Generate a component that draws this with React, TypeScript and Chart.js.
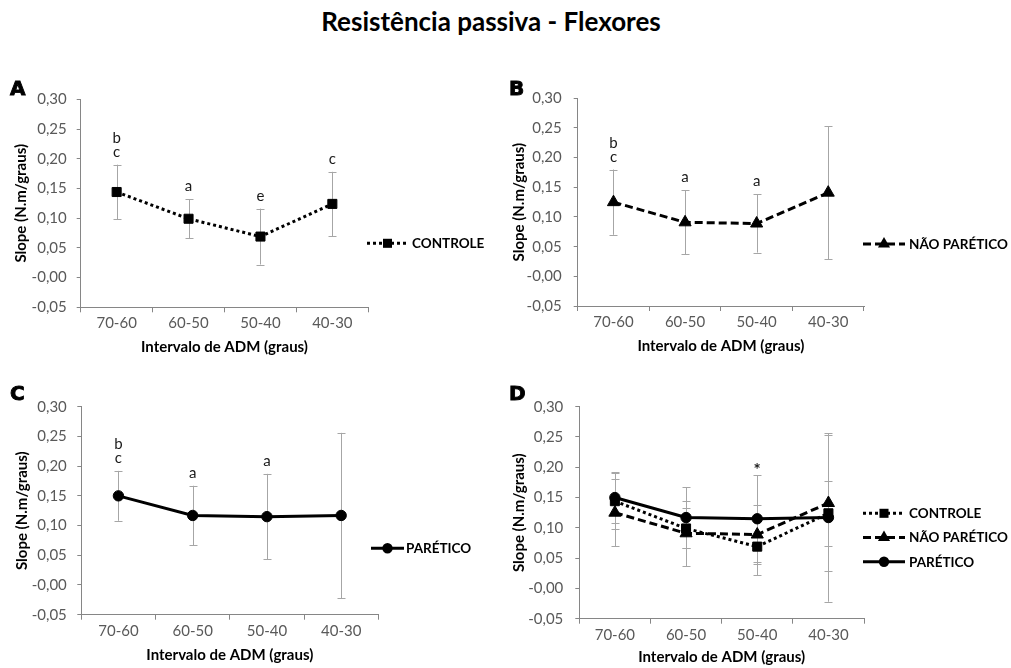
import React, { useEffect, useRef } from "react";
import { Chart, registerables } from "chart.js";

Chart.register(...registerables);

// ---------- data ----------
const categories = ["70-60", "60-50", "50-40", "40-30"];

const controle = [0.144, 0.099, 0.069, 0.124];
const controleErr = [0.046, 0.033, 0.047, 0.054];

const naoParetico = [0.125, 0.091, 0.089, 0.141];
const naoPareticoErr = [0.055, 0.054, 0.049, 0.112];

const paretico = [0.15, 0.117, 0.115, 0.117];
const pareticoErr = [0.042, 0.05, 0.072, 0.139];

const annotA = [["b", "c"], ["a"], ["e"], ["c"]];
const annotB = [["b", "c"], ["a"], ["a"], []];
const annotC = [["b", "c"], ["a"], ["a"], []];
const annotD = [[], [], ["*"], []];

const yMin = -0.05;
const yMax = 0.3;
const yStep = 0.05;

const mainTitle = "Resistência passiva - Flexores";
const xTitle = "Intervalo de ADM (graus)";
const yTitle = "Slope (N.m/graus)";

// ---------- styling ----------
const FONT = "Lato, 'Open Sans', sans-serif";
const AXIS = "#868686";
const TICK = "#595959";
const ERR = "#a6a6a6";
const TICK_SIZE = 15;
const TITLE_SIZE = 15;

type Kind = "dotted" | "dashed" | "solid";
type Series = { label: string; data: number[]; err: number[]; kind: Kind; order: number };

const sControle: Series = { label: "CONTROLE", data: controle, err: controleErr, kind: "dotted", order: 1 };
const sNao: Series = { label: "NÃO PARÉTICO", data: naoParetico, err: naoPareticoErr, kind: "dashed", order: 2 };
const sPar: Series = { label: "PARÉTICO", data: paretico, err: pareticoErr, kind: "solid", order: 0 };

function kindStyle(k: Kind) {
  if (k === "dotted") return { dash: [3, 3], point: "rect", radius: 6.4 };
  if (k === "dashed") return { dash: [8, 4], point: "triangle", radius: 7 };
  return { dash: [] as number[], point: "circle", radius: 5.2 };
}

function drawMarker(ctx: CanvasRenderingContext2D, kind: Kind, x: number, y: number) {
  const st = kindStyle(kind);
  const r = st.radius;
  ctx.beginPath();
  if (st.point === "rect") {
    const s = r * Math.SQRT1_2;
    ctx.rect(x - s, y - s, 2 * s, 2 * s);
  } else if (st.point === "triangle") {
    ctx.moveTo(x, y - r);
    ctx.lineTo(x + r * Math.cos(Math.PI / 6), y + r / 2);
    ctx.lineTo(x - r * Math.cos(Math.PI / 6), y + r / 2);
    ctx.closePath();
  } else {
    ctx.arc(x, y, r, 0, Math.PI * 2);
  }
  ctx.fillStyle = "#000";
  ctx.fill();
}

type PanelCfg = {
  letter: string;
  cx: number; cy: number; cw: number; ch: number;
  L: number; T: number; R: number; B: number;
  xTitleY: number; yTitleX: number; yTickPad: number;
  series: Series[];
  annot: string[][];
  anchor: number;
  annotOffset: number;
  legend: { x: number; y: number; len: number; gap: number; spacing: number };
  letterX: number; letterY: number;
};

const panels: PanelCfg[] = [
  {
    letter: "A", cx: 0, cy: 60, cw: 500, ch: 300,
    L: 80.7, T: 99.3, R: 368.3, B: 307.3, xTitleY: 347, yTitleX: 21.5, yTickPad: 10,
    series: [sControle], annot: annotA, anchor: 0, annotOffset: 8,
    legend: { x: 367, y: 243.3, len: 41, gap: 4, spacing: 24 },
    letterX: 10, letterY: 88,
  },
  {
    letter: "B", cx: 500, cy: 60, cw: 511, ch: 300,
    L: 577.7, T: 98.3, R: 864, B: 306, xTitleY: 346, yTitleX: 519, yTickPad: 12,
    series: [sNao], annot: annotB, anchor: 0, annotOffset: 8,
    legend: { x: 863, y: 244, len: 42, gap: 4, spacing: 24 },
    letterX: 509, letterY: 88,
  },
  {
    letter: "C", cx: 0, cy: 370, cw: 500, ch: 298,
    L: 81.3, T: 406.7, R: 378.3, B: 614.7, xTitleY: 655, yTitleX: 22, yTickPad: 10.5,
    series: [sPar], annot: annotC, anchor: 0, annotOffset: 8,
    legend: { x: 371, y: 548.3, len: 33, gap: 2, spacing: 24 },
    letterX: 10, letterY: 393,
  },
  {
    letter: "D", cx: 500, cy: 370, cw: 511, ch: 298,
    L: 579.3, T: 406.7, R: 864, B: 618.7, xTitleY: 656.7, yTitleX: 519, yTickPad: 12,
    series: [sControle, sNao, sPar], annot: annotD, anchor: 2, annotOffset: 1,
    legend: { x: 863, y: 513.3, len: 42, gap: 4, spacing: 24.2 },
    letterX: 509, letterY: 393,
  },
];

function Panel({ cfg }: { cfg: PanelCfg }) {
  const ref = useRef<HTMLCanvasElement>(null);

  useEffect(() => {
    const canvas = ref.current!;
    const padTop = cfg.T - cfg.cy;
    const padRight = cfg.cx + cfg.cw - cfg.R;
    const yW = cfg.L - cfg.cx;
    const xH = cfg.cy + cfg.ch - cfg.B;
    const titleLH = TITLE_SIZE * 1.2;
    const xTitlePad = cfg.cy + cfg.ch - cfg.xTitleY - titleLH / 2;
    const yTitlePad = cfg.yTitleX - cfg.cx - titleLH / 2;

    const errorBars = {
      id: "errorBars",
      beforeDatasetsDraw(chart: any) {
        const ctx = chart.ctx as CanvasRenderingContext2D;
        const ys = chart.scales.y;
        ctx.save();
        ctx.strokeStyle = ERR;
        ctx.lineWidth = 1;
        ctx.setLineDash([]);
        chart.data.datasets.forEach((ds: any, di: number) => {
          const meta = chart.getDatasetMeta(di);
          ds.data.forEach((v: number, i: number) => {
            const e = ds.errs[i];
            const x = Math.round(meta.data[i].x) + 0.5;
            const yt = ys.getPixelForValue(v + e);
            const yb = ys.getPixelForValue(v - e);
            ctx.beginPath();
            ctx.moveTo(x, yt);
            ctx.lineTo(x, yb);
            ctx.moveTo(x - 4, Math.round(yt) + 0.5);
            ctx.lineTo(x + 4, Math.round(yt) + 0.5);
            ctx.moveTo(x - 4, Math.round(yb) + 0.5);
            ctx.lineTo(x + 4, Math.round(yb) + 0.5);
            ctx.stroke();
          });
        });
        ctx.restore();
      },
    };

    const annotations = {
      id: "annotations",
      afterDatasetsDraw(chart: any) {
        const ctx = chart.ctx as CanvasRenderingContext2D;
        const ys = chart.scales.y;
        const ds = chart.data.datasets[cfg.anchor] as any;
        const meta = chart.getDatasetMeta(cfg.anchor);
        ctx.save();
        ctx.fillStyle = "#1a1a1a";
        ctx.font = `15px ${FONT}`;
        ctx.textAlign = "center";
        ctx.textBaseline = "alphabetic";
        cfg.annot.forEach((lines, i) => {
          if (!lines.length) return;
          const x = meta.data[i].x;
          const top = ys.getPixelForValue(ds.data[i] + ds.errs[i]);
          let base = top - cfg.annotOffset;
          for (let k = lines.length - 1; k >= 0; k--) {
            if (lines[k] === "*") {
              ctx.save();
              ctx.font = `bold 17px ${FONT}`;
              ctx.fillText(lines[k], x, base + 2);
              ctx.restore();
            } else {
              ctx.fillText(lines[k], x, base);
            }
            base -= 13.5;
          }
        });
        ctx.restore();
      },
    };

    const legend = {
      id: "customLegend",
      afterDraw(chart: any) {
        const ctx = chart.ctx as CanvasRenderingContext2D;
        const lg = cfg.legend;
        cfg.series.forEach((s, i) => {
          const st = kindStyle(s.kind);
          const x = lg.x - cfg.cx;
          const y = lg.y - cfg.cy + i * lg.spacing;
          ctx.save();
          ctx.strokeStyle = "#000";
          ctx.lineWidth = 3;
          ctx.setLineDash(st.dash);
          ctx.beginPath();
          ctx.moveTo(x, y);
          ctx.lineTo(x + lg.len, y);
          ctx.stroke();
          ctx.setLineDash([]);
          drawMarker(ctx, s.kind, x + lg.len / 2, y);
          ctx.fillStyle = "#000";
          ctx.font = `bold 13.5px ${FONT}`;
          ctx.textAlign = "left";
          ctx.textBaseline = "middle";
          ctx.fillText(s.label, x + lg.len + lg.gap, y + 0.5);
          ctx.restore();
        });
      },
    };

    const chart = new Chart(canvas, {
      type: "line",
      data: {
        labels: categories,
        datasets: cfg.series.map((s) => {
          const st = kindStyle(s.kind);
          return {
            label: s.label,
            data: s.data,
            errs: s.err,
            order: s.order,
            borderColor: "#000",
            backgroundColor: "#000",
            borderWidth: 3,
            borderDash: st.dash,
            pointStyle: st.point,
            pointRadius: st.radius,
            pointBackgroundColor: "#000",
            pointBorderColor: "#000",
            pointBorderWidth: 1,
            tension: 0,
            fill: false,
          } as any;
        }),
      },
      options: {
        responsive: false,
        animation: false,
        devicePixelRatio: 1,
        layout: { padding: { left: 0, top: padTop, right: padRight, bottom: 0 } },
        plugins: {
          legend: { display: false },
          tooltip: { enabled: false },
          title: { display: false },
        },
        scales: {
          x: {
            type: "category",
            offset: true,
            grid: { offset: true, drawOnChartArea: false, drawTicks: true, tickLength: 5, color: AXIS },
            border: { color: AXIS, width: 1 },
            ticks: { color: TICK, font: { family: FONT, size: TICK_SIZE }, padding: 2, maxRotation: 0, autoSkip: false },
            title: {
              display: true,
              text: xTitle,
              color: "#000",
              font: { family: FONT, size: TITLE_SIZE, weight: "bold" },
              padding: { top: 0, bottom: xTitlePad },
            },
            afterFit: (s: any) => { s.height = xH; },
          },
          y: {
            min: yMin,
            max: yMax,
            grid: { drawOnChartArea: false, drawTicks: true, tickLength: 4, color: AXIS },
            border: { color: AXIS, width: 1 },
            ticks: {
              stepSize: yStep,
              color: TICK,
              font: { family: FONT, size: TICK_SIZE },
              padding: cfg.yTickPad,
              callback: (v: any) => Number(v).toFixed(2).replace(".", ","),
            },
            title: {
              display: true,
              text: yTitle,
              color: "#000",
              font: { family: FONT, size: TITLE_SIZE, weight: "bold" },
              padding: { top: yTitlePad, bottom: 0 },
            },
            afterFit: (s: any) => { s.width = yW; },
          },
        },
      } as any,
      plugins: [errorBars, annotations, legend],
    });
    return () => chart.destroy();
  }, []);

  return (
    <>
      <canvas
        ref={ref}
        width={cfg.cw}
        height={cfg.ch}
        style={{ position: "absolute", left: cfg.cx, top: cfg.cy, width: cfg.cw, height: cfg.ch }}
      />
      <div
        style={{
          position: "absolute",
          left: cfg.letterX,
          top: cfg.letterY - 10,
          font: "bold 20px 'DejaVu Sans', sans-serif",
          lineHeight: "20px",
          color: "#000",
          WebkitTextStroke: "0.9px #000",
        }}
      >
        {cfg.letter}
      </div>
    </>
  );
}

export default function App() {
  return (
    <div style={{ position: "absolute", left: 0, top: 0, width: 1011, height: 668, background: "#fff", overflow: "hidden" }}>
      <div
        style={{
          position: "absolute",
          left: 0,
          top: 7.5,
          width: 982,
          textAlign: "center",
          font: `bold 26px ${FONT}`,
          lineHeight: "26px",
          color: "#000",
        }}
      >
        {mainTitle}
      </div>
      {panels.map((p) => (
        <Panel key={p.letter} cfg={p} />
      ))}
    </div>
  );
}
